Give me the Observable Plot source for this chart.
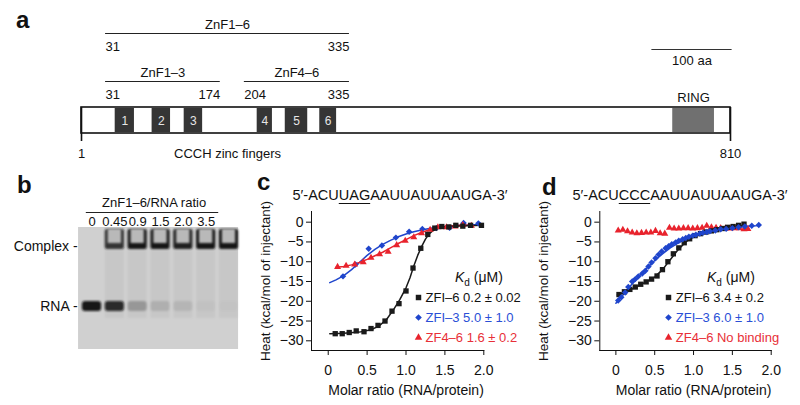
<!DOCTYPE html>
<html><head><meta charset="utf-8">
<script src="https://cdn.jsdelivr.net/npm/d3@7"></script>
<script src="https://cdn.jsdelivr.net/npm/@observablehq/plot@0.6"></script>
<style>
body{margin:0;background:#fff;}
#fig{position:relative;width:800px;height:405px;overflow:hidden;font-family:"Liberation Sans",Arial,Helvetica,sans-serif;color:#111;background:#fff;}
.abs{position:absolute;white-space:nowrap;}
</style></head><body><div id="fig"></div>
<script>
// ---------- DATA ----------
// Panel a: domain map
const proteinLength = 810;
const constructNames = ["ZnF1–6", "ZnF1–3", "ZnF4–6"];
const constructStart = [31, 31, 204];
const constructEnd = [335, 174, 335];
const constructRow = [0, 1, 1];
const zincFingerNames = ["1", "2", "3", "4", "5", "6"];
const zincFingerStart = [43, 89, 129, 220, 255, 298];
const zincFingerEnd = [67, 112, 152, 239, 283, 319];
const ringStart = 738, ringEnd = 790;
const scaleBarLength = 100;

// Panel b: gel
const gelLanes = [1, 2, 3, 4, 5, 6, 7];
const gelRatioLabels = ["0", "0.45", "0.9", "1.5", "2.0", "3.5"];
const rnaBandIntensity = [0.95, 0.85, 0.24, 0.12, 0.09, 0.03, 0.02];
const complexBandIntensity = [0, 0.85, 1, 1, 0.95, 1, 1];

// Panel c: ITC, 5'-ACUUAGAAUUAUUAAUGA-3'
const cZF16x = [0.09,0.18,0.27,0.36,0.46,0.55,0.64,0.73,0.82,0.91,1.00,1.09,1.19,1.28,1.37,1.46,1.55,1.64,1.73,1.83,1.97];
const cZF16y = [-28.2,-28.2,-27.9,-27.5,-27.7,-26.9,-26.1,-25.0,-22.5,-20.6,-17.4,-11.6,-6.6,-3.1,-1.5,-1.1,-1.2,-0.8,-1.0,-0.8,-0.8];
const cZF13x = [0.19,0.35,0.52,0.69,0.87,1.04,1.21,1.39,1.56,1.74,1.93];
const cZF13y = [-13.7,-10.7,-6.7,-5.9,-3.9,-2.4,-1.7,-1.5,-1.4,-0.2,-0.3];
const cZF46x = [0.12,0.23,0.34,0.45,0.55,0.66,0.77,0.88,0.99,1.10,1.20,1.31,1.41,1.52,1.63,1.73,1.84];
const cZF46y = [-11.3,-11.0,-10.7,-10.1,-9.0,-8.1,-7.5,-5.8,-4.7,-3.8,-2.8,-1.9,-1.3,-1.3,-1.1,-0.7,-0.9];
const cFit16x = [0.02,0.2,0.4,0.55,0.65,0.75,0.85,0.92,1.0,1.05,1.1,1.15,1.2,1.25,1.3,1.35,1.45,1.6,1.8,1.97];
const cFit16y = [-28.2,-28.1,-27.8,-27.2,-26.3,-24.6,-21.8,-19.6,-16.6,-14.1,-11.1,-8.4,-6.2,-4.3,-2.9,-2.1,-1.3,-1.0,-0.9,-0.8];
const cFit13x = [0.02,0.1,0.2,0.3,0.4,0.5,0.6,0.7,0.8,0.9,1.0,1.1,1.2,1.3,1.4,1.5,1.6,1.7,1.8,1.95];
const cFit13y = [-15.3,-14.6,-13.5,-12.0,-10.2,-8.4,-6.9,-5.6,-4.6,-3.7,-3.0,-2.4,-2.0,-1.6,-1.3,-1.1,-0.9,-0.8,-0.7,-0.6];
const cFit46x = [0.1,0.2,0.3,0.4,0.5,0.6,0.7,0.8,0.9,1.0,1.1,1.2,1.3,1.4,1.5,1.6,1.7,1.85];
const cFit46y = [-11.4,-11.2,-10.8,-10.2,-9.4,-8.5,-7.6,-6.5,-5.4,-4.4,-3.4,-2.6,-1.9,-1.4,-1.1,-0.9,-0.8,-0.7];
const cLegendLabels = ["ZFI–6 0.2 ± 0.02", "ZFI–3 5.0 ± 1.0", "ZF4–6 1.6 ± 0.2"];

// Panel d: ITC, 5'-ACUCCCAAUUAUUAAUGA-3'
const dZF16x = [0.04,0.11,0.18,0.25,0.32,0.39,0.46,0.53,0.60,0.67,0.74,0.81,0.88,0.95,1.02,1.09,1.16,1.23,1.30,1.37,1.44,1.51,1.58,1.65];
const dZF16y = [-18.3,-17.6,-17.0,-16.4,-15.7,-15.1,-14.4,-13.6,-12.0,-10.0,-8.0,-6.5,-5.2,-4.2,-3.4,-2.9,-2.5,-2.2,-1.9,-1.6,-1.3,-1.1,-0.8,-0.5];
const dZF13x = [0.03,0.07,0.12,0.16,0.21,0.25,0.29,0.34,0.38,0.42,0.46,0.51,0.55,0.59,0.64,0.68,0.72,0.77,0.81,0.86,0.90,0.94,0.99,1.03,1.08,1.12,1.17,1.21,1.28,1.35,1.42,1.50,1.58,1.66,1.75,1.84];
const dZF13y = [-19.8,-19.0,-17.8,-16.4,-15.0,-14.4,-13.7,-13.0,-12.3,-11.2,-10.2,-9.1,-8.2,-7.4,-6.6,-6.1,-5.6,-5.1,-4.7,-4.3,-4.0,-3.7,-3.4,-3.2,-2.9,-2.7,-2.5,-2.3,-2.1,-1.8,-1.7,-1.5,-1.3,-1.1,-0.9,-0.7];
const dZF46x = [0.03,0.09,0.15,0.21,0.27,0.33,0.39,0.45,0.51,0.57,0.63,0.69,0.75,0.81,0.87,0.93,0.99,1.05,1.11,1.17,1.23,1.29,1.35,1.41,1.47,1.53,1.59,1.65,1.70];
const dZF46y = [-2.1,-1.9,-2.3,-2.6,-2.8,-2.7,-2.6,-2.6,-2.2,-2.8,-2.9,-1.4,-1.6,-1.6,-1.5,-1.5,-1.6,-1.5,-1.4,-0.9,-1.3,-1.4,-1.5,-1.6,-1.6,-1.5,-1.5,-1.8,-1.7];
const dFit16x = [0.02,0.2,0.4,0.5,0.6,0.7,0.8,0.9,1.0,1.1,1.2,1.3,1.4,1.5,1.6,1.65];
const dFit16y = [-18.4,-17.0,-15.0,-13.9,-12.0,-9.5,-7.0,-5.0,-3.7,-2.9,-2.4,-1.9,-1.5,-1.2,-0.9,-0.8];
const dFit13x = [0.0,0.1,0.2,0.3,0.4,0.5,0.6,0.7,0.8,0.9,1.0,1.1,1.2,1.3,1.4,1.5,1.6,1.7,1.8,1.85];
const dFit13y = [-20.5,-18.2,-15.8,-13.6,-11.6,-9.7,-8.0,-6.5,-5.3,-4.3,-3.5,-2.9,-2.4,-2.0,-1.7,-1.4,-1.2,-1.0,-0.9,-0.8];
const dLegendLabels = ["ZFI–6 3.4 ± 0.2", "ZFI–3 6.0 ± 1.0", "ZF4–6 No binding"];

const xTicks = [0, 0.5, 1, 1.5, 2];
const yTicks = [0, -5, -10, -15, -20, -25, -30];

// ---------- STYLE ----------
const FONT = '"Liberation Sans", Arial, Helvetica, sans-serif';
const BLACK = "#1a1a1a", BLUE = "#1f45cc", RED = "#e8232d";
const BLUE_TXT = "#2a4fd6", RED_TXT = "#e83038";
const fig = document.getElementById("fig");
function place(node, left, top) {
  node.style.position = "absolute";
  node.style.left = left + "px";
  node.style.top = top + "px";
  fig.appendChild(node);
  return node;
}
function html(content, left, top, css = "") {
  const d = document.createElement("div");
  d.className = "abs";
  d.style.cssText = css;
  d.innerHTML = content;
  return place(d, left, top);
}
const zip = (xs, ys) => xs.map((x, i) => ({x, y: ys[i]}));
const baseStyle = {fontFamily: FONT, fontSize: "13px", color: "#111", background: "transparent", overflow: "visible", maxWidth: "none"};

// ---------- PANEL a ----------
const constructs = constructNames.map((name, i) => ({name, start: constructStart[i], end: constructEnd[i], row: constructRow[i]}));
const zincFingers = zincFingerNames.map((name, i) => ({name, start: zincFingerStart[i], end: zincFingerEnd[i]}));
const lineY = [33, 81];
const aSvg = Plot.plot({
  width: 800, height: 168, margin: 0,
  x: {domain: [1, proteinLength], range: [81, 730], axis: null},
  y: {domain: [0, 168], range: [0, 168], axis: null},
  style: baseStyle,
  marks: [
    Plot.ruleY(constructs, {y: d => lineY[d.row], x1: "start", x2: "end", stroke: "#222", strokeWidth: 1.2}),
    Plot.text(constructs, {x: d => (d.start + d.end) / 2, y: d => lineY[d.row] - 8.5, text: "name", fontSize: 13}),
    Plot.text(constructs, {x: "start", y: d => lineY[d.row] + 13, text: d => String(d.start), textAnchor: "start", fontSize: 13}),
    Plot.text(constructs, {x: "end", y: d => lineY[d.row] + 13, text: d => String(d.end), textAnchor: "end", fontSize: 13}),
    Plot.rect([{s: 1, e: proteinLength}], {x1: "s", x2: "e", y1: 107, y2: 133, fill: "white", stroke: "#111", strokeWidth: 1.6}),
    Plot.rect(zincFingers, {x1: "start", x2: "end", y1: 108, y2: 132, fill: "#353535"}),
    Plot.text(zincFingers, {x: d => (d.start + d.end) / 2, y: 120.5, text: "name", fill: "#e6e6e6", fontSize: 12}),
    Plot.rect([{s: ringStart, e: ringEnd}], {x1: "s", x2: "e", y1: 108, y2: 132, fill: "#707070"}),
    Plot.text([{x: (ringStart + ringEnd) / 2, t: "RING"}], {x: "x", y: 97, text: "t", fontSize: 13}),
    Plot.ruleX([1, proteinLength], {y1: 107, y2: 141, stroke: "#111", strokeWidth: 1.6}),
    Plot.text([1, proteinLength], {x: d => d, y: 153, text: d => String(d), fontSize: 13}),
    Plot.text([{x: (constructStart[0] + constructEnd[0]) / 2, t: "CCCH zinc fingers"}], {x: "x", y: 153, text: "t", fontSize: 13}),
    Plot.ruleY([{s: 712, e: 712 + scaleBarLength}], {y: 49, x1: "s", x2: "e", stroke: "#333", strokeWidth: 1.2}),
    Plot.text([{x: 712 + scaleBarLength / 2, t: scaleBarLength + " aa"}], {x: "x", y: 60, text: "t", fontSize: 13})
  ]
});
place(aSvg, 0, 0);

// ---------- PANEL b ----------
const lanes = gelLanes.map((lane, i) => ({lane, rna: rnaBandIntensity[i], complex: complexBandIntensity[i], label: gelRatioLabels[i]}));
const W = 0.42;
const bSvg = Plot.plot({
  width: 255, height: 237, marginLeft: 80.1, marginRight: 15.1, marginTop: 0, marginBottom: 0,
  x: {domain: [0.5, 7.5], axis: null},
  y: {domain: [0, 237], range: [0, 237], axis: null},
  style: baseStyle,
  marks: [
    Plot.rect([0], {x1: 0.41, x2: 7.42, y1: 59, y2: 181, fill: "#d0d0d0"}),
    Plot.rect(lanes.filter(d => d.complex > 0), {x1: d => d.lane - W, x2: d => d.lane + W, y1: 82, y2: 150, fill: "#000", fillOpacity: 0.045}),
    Plot.rect(lanes.filter(d => d.complex > 0), {x1: d => d.lane - W, x2: d => d.lane + W, y1: 61, y2: 81, fill: "#161616", fillOpacity: d => d.complex, rx: 2}),
    Plot.rect(lanes.filter(d => d.complex > 0), {x1: d => d.lane - W + 0.13, x2: d => d.lane + W - 0.13, y1: 61, y2: 75, fill: "#b9b9b9"}),
    Plot.rect(lanes, {x1: d => d.lane - W, x2: d => d.lane + W, y1: 133, y2: 143, fill: "#0d0d0d", fillOpacity: d => d.rna, rx: 3}),
    Plot.text([{x: 3.5, t: "ZnF1–6/RNA ratio"}], {x: "x", y: 34, dx: 5, text: "t", fontSize: 13}),
    Plot.ruleY([{a: 0.75, b: 6.55}], {x1: "a", x2: "b", y: 44, stroke: "#222", strokeWidth: 1.2}),
    Plot.text(lanes.filter(d => d.label), {x: "lane", y: 53.5, text: "label", fontSize: 13}),
    Plot.text(["Complex -"], {frameAnchor: "left", y: 78, dx: -3, textAnchor: "end", text: d => d, fontSize: 14}),
    Plot.text(["RNA -"], {frameAnchor: "left", y: 138, dx: -3, textAnchor: "end", text: d => d, fontSize: 14})
  ]
});
{
  const s = d3.select(bSvg);
  const f = s.insert("defs", ":first-child").append("filter").attr("id", "gelBlur")
    .attr("x", "-30%").attr("y", "-60%").attr("width", "160%").attr("height", "220%");
  f.append("feGaussianBlur").attr("stdDeviation", 1.1);
  s.selectAll('g[aria-label="rect"]').each(function(d, i) { if (i >= 1) d3.select(this).attr("filter", "url(#gelBlur)"); });
}
place(bSvg, 0, 168);

// ---------- PANELS c, d ----------
function itcPanel({width, marginLeft, marginRight, xMin, fits, series, labelDx}) {
  const marks = [];
  for (const f of fits) marks.push(Plot.line(f.data, {x: "x", y: "y", stroke: f.color, strokeWidth: 1.5}));
  for (const s of series) marks.push(Plot.dot(s.data, {x: "x", y: "y", symbol: s.symbol, fill: s.color, r: s.r, stroke: "none"}));
  marks.push(Plot.text([{t: "Heat (kcal/mol of injectant)"}], {text: "t", frameAnchor: "left", rotate: -90, dx: labelDx, textAnchor: "middle", lineAnchor: "middle", fontSize: 13.5}));
  marks.push(Plot.text([{x: 1, t: "Molar ratio (RNA/protein)"}], {x: "x", text: "t", frameAnchor: "bottom", dy: 40, textAnchor: "middle", lineAnchor: "middle", fontSize: 14}));
  return Plot.plot({
    width, height: 237, marginLeft, marginRight, marginTop: 43, marginBottom: 55,
    x: {domain: [xMin, 2], ticks: xTicks, tickFormat: d => d === 0 ? "0" : d.toFixed(1), tickSize: 5, tickPadding: 10, label: null, line: true},
    y: {domain: [-32.45, 2.7], ticks: yTicks, tickFormat: d => d === 0 ? "0" : d3.format("d")(d), tickSize: 5, tickPadding: 3, label: null, line: true},
    style: {...baseStyle, fontSize: "14px"},
    marks
  });
}
const cSvg = itcPanel({
  width: 275, marginLeft: 56, marginRight: 46.7, xMin: -0.215, labelDx: -46,
  fits: [{data: zip(cFit13x, cFit13y), color: BLUE}, {data: zip(cFit46x, cFit46y), color: RED}, {data: zip(cFit16x, cFit16y), color: BLACK}],
  series: [
    {data: zip(cZF13x, cZF13y), symbol: "diamond2", color: BLUE, r: 2.9},
    {data: zip(cZF46x, cZF46y), symbol: "triangle", color: RED, r: 2.6},
    {data: zip(cZF16x, cZF16y), symbol: "square", color: BLACK, r: 3.0}
  ]
});
place(cSvg, 255, 168);
const dSvg = itcPanel({
  width: 270, marginLeft: 69.3, marginRight: 29.3, xMin: -0.207, labelDx: -56.3,
  fits: [{data: zip(dFit16x, dFit16y), color: BLACK}, {data: zip(dFit13x, dFit13y), color: BLUE}],
  series: [
    {data: zip(dZF46x, dZF46y), symbol: "triangle", color: RED, r: 2.6},
    {data: zip(dZF16x, dZF16y), symbol: "square", color: BLACK, r: 3.0},
    {data: zip(dZF13x, dZF13y), symbol: "diamond2", color: BLUE, r: 2.9}
  ]
});
place(dSvg, 530, 168);

// ---------- TEXT OVERLAYS ----------
const letterCss = "font-weight:bold;font-size:24px;line-height:24px;";
html("a", 16, 28 - 20.3, letterCss);
html("b", 17, 193 - 20.3, letterCss);
html("c", 257, 190 - 20.3, letterCss);
html("d", 542, 195 - 20.3, letterCss);

const seqCss = "font-size:14.5px;line-height:14.5px;transform:translateX(-50%);";
const ul = t => `<span style="text-decoration:underline;text-underline-offset:3px;text-decoration-thickness:1px">${t}</span>`;
html(`5′-ACU${ul("UAG")}AAUUAUUAAUGA-3′`, 400, 195 - 7.25, seqCss);
html(`5′-ACU${ul("CCC")}AAUUAUUAAUGA-3′`, 680, 195 - 7.25, seqCss);

const symPaths = [d3.symbol(d3.symbolSquare, 30)(), d3.symbol(d3.symbolDiamond2, 28)(), d3.symbol(d3.symbolTriangle, 24)()];
const symFill = [BLACK, BLUE, RED];
const txtFill = ["#111", BLUE_TXT, RED_TXT];
function legend(kdLeft, left, labels) {
  html('<i>K</i><span style="font-size:10px;position:relative;top:4px">d</span> (μM)', kdLeft, 277 - 7, "font-size:14px;line-height:14px;");
  labels.forEach((lab, i) => {
    const y = 297 + 20 * i;
    html(`<svg width="9" height="9" style="overflow:visible;margin-right:3px"><path transform="translate(4.5,4.5)" d="${symPaths[i]}" fill="${symFill[i]}"/></svg><span style="color:${txtFill[i]}">${lab}</span>`,
      left, y - 6.5, "font-size:13px;line-height:13px;display:flex;align-items:center;");
  });
}
legend(455, 413.5, cLegendLabels);
legend(707, 663.8, dLegendLabels);
</script></body></html>
